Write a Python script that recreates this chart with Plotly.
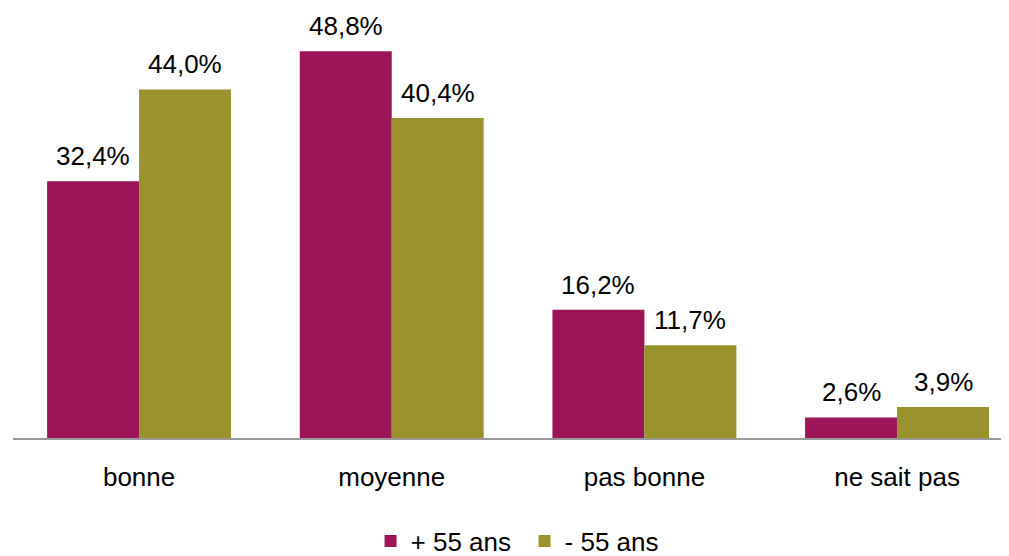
import plotly.graph_objects as go

categories = ["bonne", "moyenne", "pas bonne", "ne sait pas"]
series_names = ["+ 55 ans", "- 55 ans"]
plus55 = [32.4, 48.8, 16.2, 2.6]
moins55 = [44.0, 40.4, 11.7, 3.9]
colors = ["#9B1558", "#99922D"]

FONT = "Liberation Sans, Arial, sans-serif"

fig = go.Figure()
for name, vals, col in zip(series_names, [plus55, moins55], colors):
    fig.add_trace(go.Bar(x=categories, y=vals, name=name, marker_color=col,
                         marker_line_width=0))

# value labels
offsets = [-0.182, 0.182]
for off, vals in zip(offsets, [plus55, moins55]):
    for i, v in enumerate(vals):
        fig.add_annotation(x=i + off, y=v, xref="x", yref="y",
                           text=f"{v:.1f}%".replace(".", ","),
                           showarrow=False, yanchor="middle", yshift=25,
                           font=dict(size=26, color="#000000", family=FONT))

# page body has an 8px default margin; size figure so it fills the 1009x556 window
fig.update_layout(
    width=1001, height=548,
    margin=dict(l=5, r=0, t=18, b=118, autoexpand=False),
    paper_bgcolor="white", plot_bgcolor="white",
    barmode="group", bargap=0.272, bargroupgap=0,
    font=dict(family=FONT, size=26, color="#000000"),
    showlegend=True,
    legend=dict(orientation="h", x=0.359, xanchor="left", y=-0.25, yanchor="middle",
                font=dict(size=26), traceorder="normal", entrywidth=109,
                entrywidthmode="pixels"),
    xaxis=dict(range=[-0.499, 3.443], showline=True, linecolor="#999999", linewidth=2,
               ticks="outside", ticklen=15, tickcolor="rgba(0,0,0,0)",
               showgrid=False, tickfont=dict(size=26), automargin=False),
    yaxis=dict(range=[0, 52], visible=False, showgrid=False, zeroline=False,
               automargin=False),
)

fig.write_html("out.html")
